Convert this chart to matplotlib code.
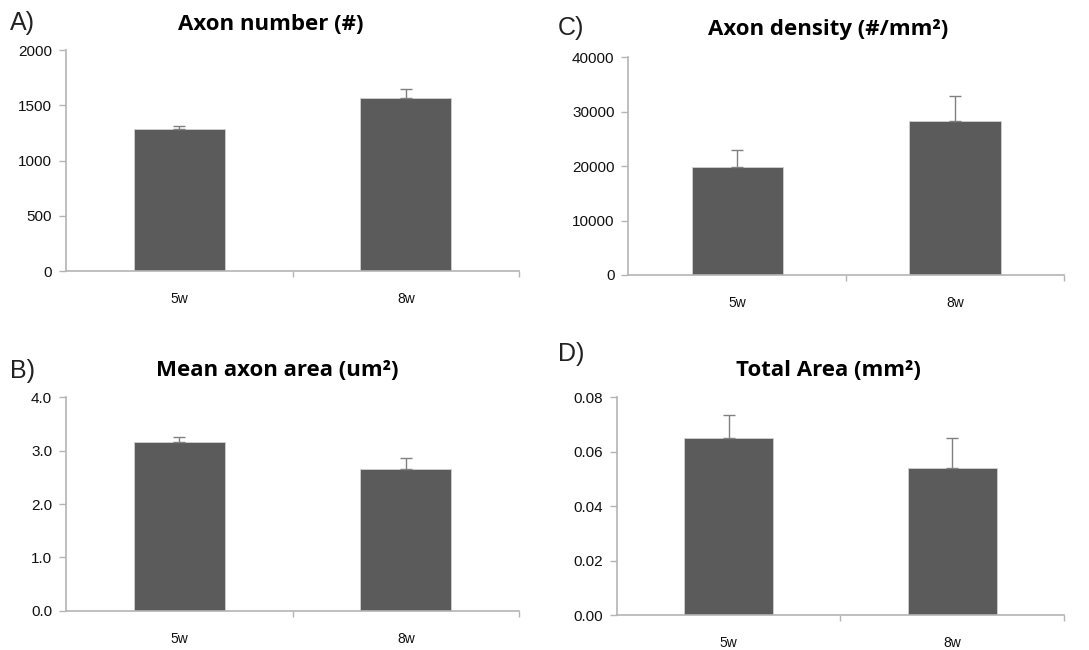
import matplotlib.pyplot as plt
from matplotlib.ticker import FormatStrFormatter

groups = ["5w", "8w"]

axon_number = [1288, 1568]
axon_number_err = [22, 75]

axon_density = [19900, 28300]
axon_density_err = [3100, 4500]

mean_area = [3.16, 2.66]
mean_area_err = [0.09, 0.21]

total_area = [0.065, 0.054]
total_area_err = [0.0085, 0.011]

bar_color = "#5b5b5b"
axis_color = "#b4b4b4"
title_font = "Open Sans"
tick_font = ["Liberation Sans Narrow", "Liberation Sans", "DejaVu Sans"]

fig = plt.figure(figsize=(10.89, 6.5), dpi=100)


def panel(rect, values, errs, ymax, step, fmt, width):
	ax = fig.add_axes(rect)
	x = list(range(len(groups)))
	ax.bar(x, values, width=width, color=bar_color, edgecolor="#d0d0d0", linewidth=0.6, zorder=2)
	ax.errorbar(x, values, yerr=[[0] * len(errs), errs], fmt="none",
				ecolor="#808080", elinewidth=1, capsize=4, capthick=1, zorder=3)
	ax.set_xlim(-0.5, len(groups) - 0.5)
	ax.set_ylim(0, ymax)
	ticks = [i * step for i in range(int(round(ymax / step)) + 1)]
	ax.set_yticks(ticks)
	ax.yaxis.set_major_formatter(FormatStrFormatter(fmt))
	ax.set_xticks(x)
	ax.set_xticklabels(groups)
	ax.set_xticks([0.5, 1.5], minor=True)
	for s in ["top", "right"]:
		ax.spines[s].set_visible(False)
	for s in ["left", "bottom"]:
		ax.spines[s].set_color(axis_color)
		ax.spines[s].set_linewidth(1.2)
	ax.tick_params(axis="y", direction="out", length=5, width=1, color=axis_color, pad=5)
	ax.tick_params(axis="x", which="major", length=0, pad=15)
	ax.tick_params(axis="x", which="minor", direction="out", length=4, width=1, color=axis_color)
	for lab in ax.get_yticklabels():
		lab.set_family(tick_font)
		lab.set_fontsize(11)
		lab.set_color("#111111")
	for lab in ax.get_xticklabels():
		lab.set_family(tick_font)
		lab.set_fontsize(10)
		lab.set_color("#111111")
	return ax


panel([0.0606, 0.583, 0.416, 0.340], axon_number, axon_number_err, 2000, 500, "%d", 0.40)
panel([0.577, 0.577, 0.400, 0.335], axon_density, axon_density_err, 40000, 10000, "%d", 0.42)
panel([0.0606, 0.0605, 0.416, 0.328], mean_area, mean_area_err, 4.0, 1.0, "%.1f", 0.40)
panel([0.5663, 0.0534, 0.411, 0.3354], total_area, total_area_err, 0.08, 0.02, "%.2f", 0.40)

# panel titles
titles = [
	(271, 24, "Axon number (#)"),
	(828, 30, "Axon density (#/mm²)"),
	(277, 371, "Mean axon area (um²)"),
	(828, 371, "Total Area (mm²)"),
]
for px, py, t in titles:
	fig.text(px / 1089, 1 - py / 650, t, ha="center", va="center",
			 family=title_font, fontweight="bold", fontsize=16)

letters = [(10, 23, "A)"), (558, 28, "C)"), (10, 371, "B)"), (558, 354, "D)")]
for px, py, t in letters:
	fig.text(px / 1089, 1 - py / 650, t, ha="left", va="center",
			 family="Liberation Sans", fontsize=18, color="#222222")

fig.savefig("out.png", dpi=100)
